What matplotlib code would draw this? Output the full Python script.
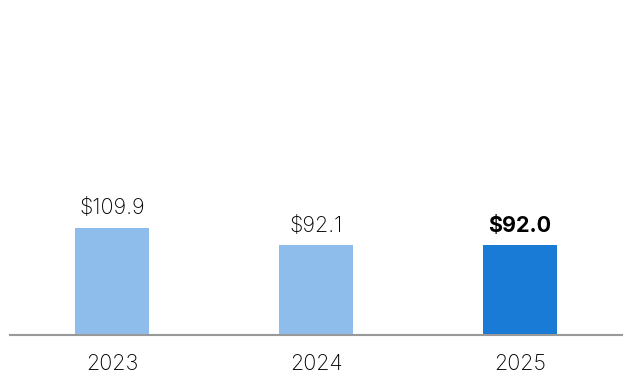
import matplotlib
matplotlib.use('Agg')
import matplotlib.pyplot as plt

years = ['2023', '2024', '2025']
values = [109.9, 92.1, 92.0]
labels = ['$109.9', '$92.1', '$92.0']
colors = ['#8fbdeb', '#8fbdeb', '#1a7bd6']

plt.rcParams['font.family'] = ['Inter', 'DejaVu Sans']

fig = plt.figure(figsize=(6.32, 3.84), dpi=100)
ax = fig.add_axes([10 / 632, 49 / 384, 612 / 632, 335 / 384])

x = range(len(years))
bars = ax.bar(x, values, width=0.363, color=colors)

for i, (b, lab) in enumerate(zip(bars, labels)):
    last = i == len(bars) - 1
    ax.annotate(lab, (b.get_x() + b.get_width() / 2, b.get_height()),
                xytext=(0, 7), textcoords='offset points',
                ha='center', va='bottom', fontsize=15.5,
                fontweight='bold' if last else 'light',
                color='#000000')

ax.set_xlim(-0.5, 2.5)
ax.set_ylim(0, 344)
ax.set_xticks(list(x))
ax.set_xticklabels(years, fontsize=15.5, fontweight='light', color='#000000')
ax.tick_params(axis='x', length=0, pad=13.5)
ax.set_yticks([])
for s in ['top', 'right', 'left']:
    ax.spines[s].set_visible(False)
ax.spines['bottom'].set_color('#999999')
ax.spines['bottom'].set_linewidth(1.5)

fig.savefig('out.png', dpi=100)
